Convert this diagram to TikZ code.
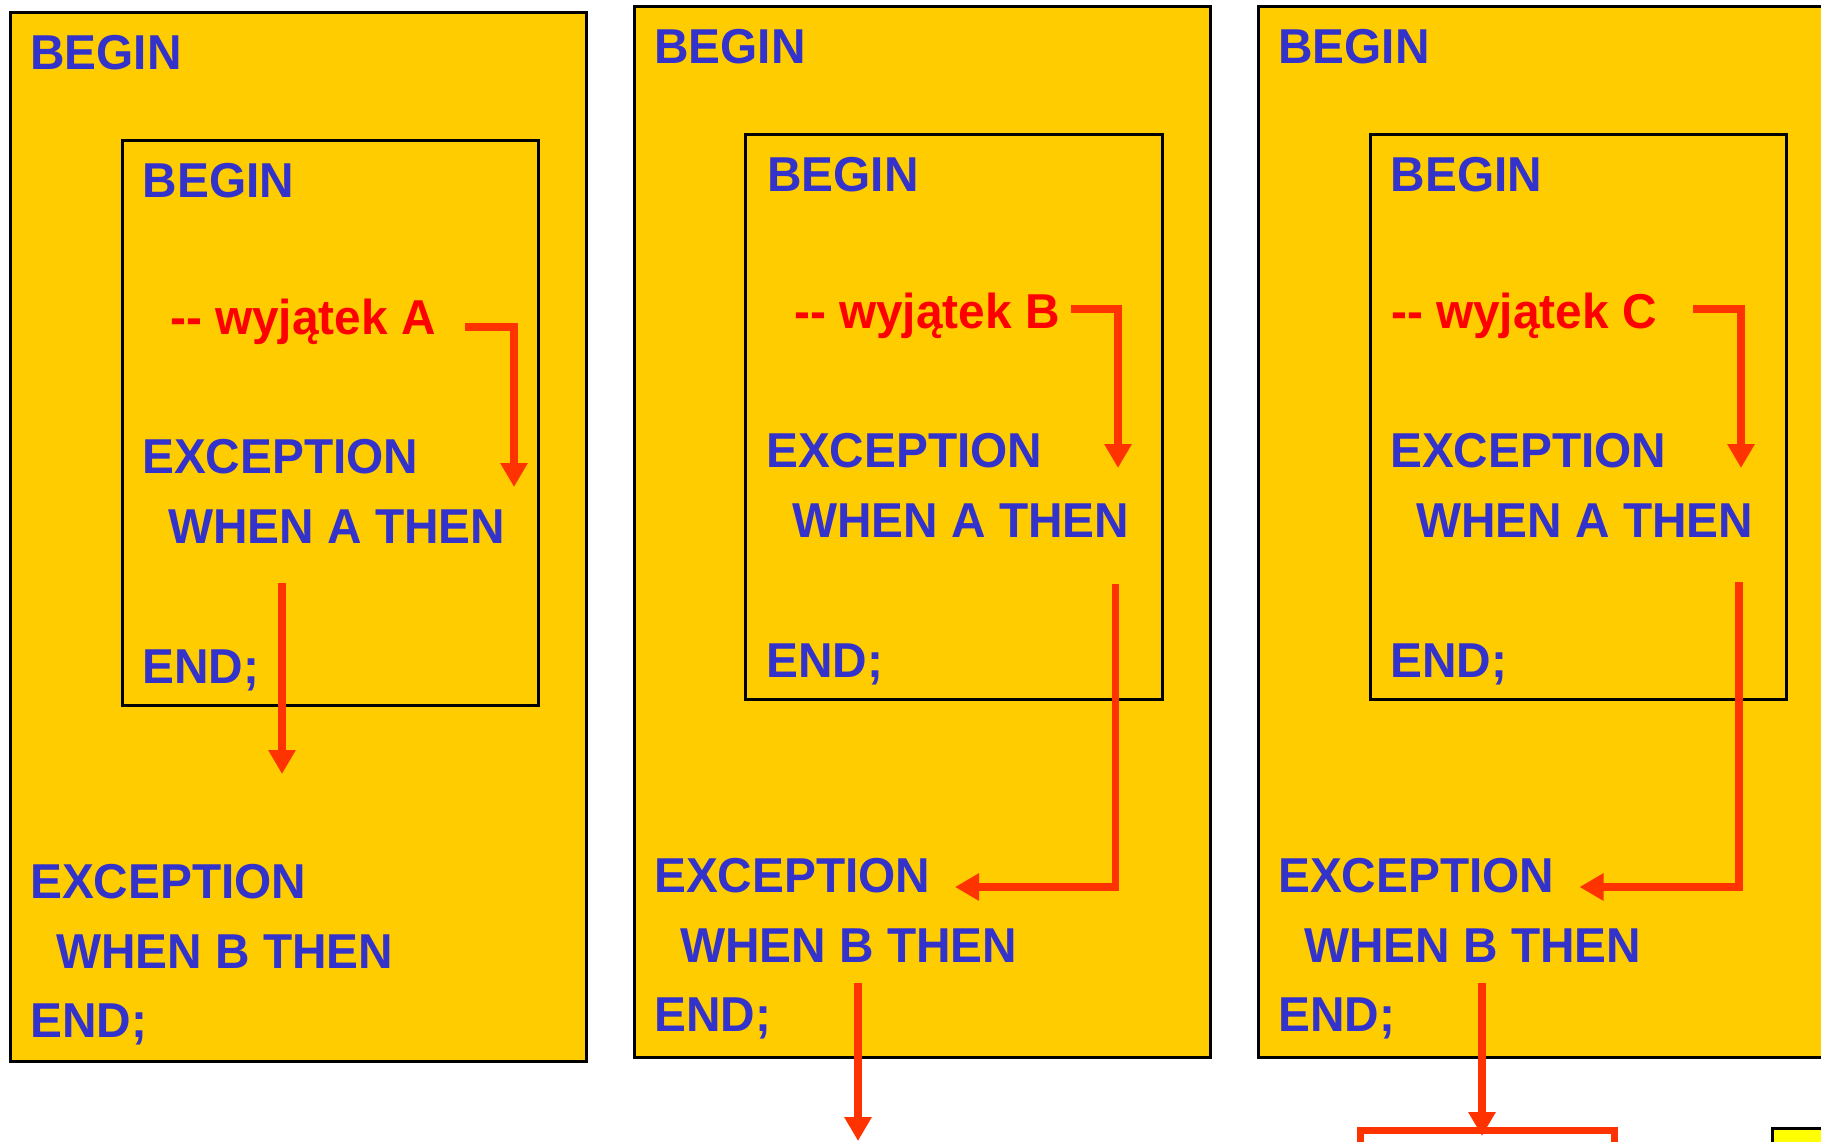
\documentclass[tikz,border=0pt]{standalone}
\usepackage{fontspec}
\newfontfamily\labfont{Liberation Sans}[FakeStretch=0.975]
\usetikzlibrary{arrows.meta}
\definecolor{boxyellow}{HTML}{FFCC00}
\definecolor{codeblue}{HTML}{3333CC}
\definecolor{exred}{HTML}{FF0000}
\definecolor{arrowred}{HTML}{FF3300}
\definecolor{brightyellow}{HTML}{FFFF00}
\tikzset{
  outerbox/.style={draw=black,line width=3pt,fill=boxyellow},
  innerbox/.style={draw=black,line width=3pt},
  code/.style={anchor=base west,inner sep=0pt,text=codeblue,font=\labfont\bfseries\fontsize{49}{55}\selectfont},
  excode/.style={code,text=exred},
  flow/.style={draw=arrowred,line width=7.5pt,-{Triangle[width=26pt,length=24pt]}}
}
\begin{document}
\begin{tikzpicture}[x=1pt,y=-1pt]
\clip (0,0) rectangle (1821,1141);
\fill[white] (0,0) rectangle (1821,1141);

% ---------- Panel 1 ----------
\draw[outerbox] (10.5,12.8) rectangle (586.5,1061.5);
\draw[innerbox] (122,140) rectangle (538,705);
\node[code] (p1ob) at (30,69) {BEGIN};
\node[code] (p1ib) at (142.5,197) {BEGIN};
\node[excode] (p1wa) at (170,334) {-- wyjątek A};
\node[code] (p1iex) at (142,473) {EXCEPTION};
\node[code] (p1wh) at (168,543) {WHEN A THEN};
\node[code] (p1ie) at (142,683) {END;};
\node[code] (p1oex) at (30,898) {EXCEPTION};
\node[code] (p1owh) at (56,968) {WHEN B THEN};
\node[code] (p1oe) at (30,1037) {END;};
\coordinate (p1a0) at (465,327);
\coordinate (p1a1) at (514,487);
\coordinate (p1d0) at (282,583);
\coordinate (p1d1) at (282,774);
\draw[flow] (p1a0) -| (p1a1);
\draw[flow] (p1d0) -- (p1d1);

% ---------- Panel 2 ----------
\draw[outerbox] (634,6.5) rectangle (1210.5,1057);
\draw[innerbox] (745.5,134) rectangle (1162.5,699);
\node[code] (p2ob) at (654,63) {BEGIN};
\node[code] (p2ib) at (767,191) {BEGIN};
\node[excode] (p2wb) at (794,328) {-- wyjątek B};
\node[code] (p2iex) at (766,467) {EXCEPTION};
\node[code] (p2wh) at (792,537) {WHEN A THEN};
\node[code] (p2ie) at (766,677) {END;};
\node[code] (p2oex) at (654,892) {EXCEPTION};
\node[code] (p2owh) at (680,962) {WHEN B THEN};
\node[code] (p2oe) at (654,1031) {END;};
\coordinate (p2a0) at (1071,309);
\coordinate (p2a1) at (1118,468);
\coordinate (p2c0) at (1115.5,584);
\coordinate (p2c1) at (955,887);
\coordinate (p2d0) at (858,983);
\coordinate (p2d1) at (858,1141);
\draw[flow] (p2a0) -| (p2a1);
\draw[flow] (p2c0) |- (p2c1);
\draw[flow] (p2d0) -- (p2d1);

% ---------- Panel 3 ----------
\draw[outerbox] (1258,6.5) rectangle (1850,1057);
\draw[innerbox] (1370.5,134) rectangle (1786.5,699);
\node[code] (p3ob) at (1278,63) {BEGIN};
\node[code] (p3ib) at (1390.5,191) {BEGIN};
\node[excode] (p3wc) at (1391,328) {-- wyjątek C};
\node[code] (p3iex) at (1390,467) {EXCEPTION};
\node[code] (p3wh) at (1416,537) {WHEN A THEN};
\node[code] (p3ie) at (1390,677) {END;};
\node[code] (p3oex) at (1278,892) {EXCEPTION};
\node[code] (p3owh) at (1304,962) {WHEN B THEN};
\node[code] (p3oe) at (1278,1031) {END;};
\coordinate (p3a0) at (1693,309);
\coordinate (p3a1) at (1741,468);
\coordinate (p3c0) at (1739,582);
\coordinate (p3c1) at (1579.5,887);
\coordinate (p3d0) at (1482,983);

% boxes below panel 3
\draw[draw=arrowred,line width=7pt,fill=white] (1360,1130.5) rectangle (1614,1180);
\coordinate (p3d1) at (1482,1136);
\draw[draw=black,line width=3pt,fill=brightyellow] (1772,1128.5) rectangle (1840,1180);

\draw[flow] (p3a0) -| (p3a1);
\draw[flow] (p3c0) |- (p3c1);
\draw[flow] (p3d0) -- (p3d1);
\end{tikzpicture}
\end{document}
